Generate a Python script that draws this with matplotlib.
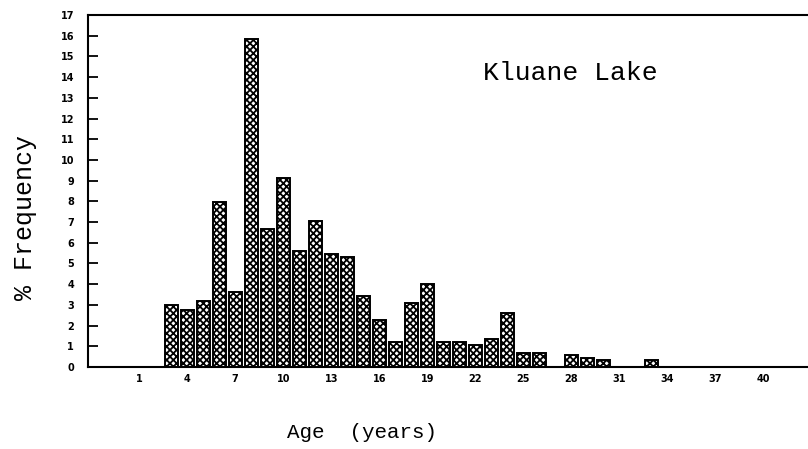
import matplotlib
matplotlib.use("Agg")
import matplotlib.pyplot as plt

ages = [3, 4, 5, 6, 7, 8, 9, 10, 11, 12, 13, 14, 15, 16, 17, 18, 19, 20, 21, 22,
        23, 24, 25, 26, 28, 29, 30, 33]
freq = [3.0, 2.75, 3.2, 7.95, 3.6, 15.85, 6.65, 9.15, 5.6, 7.05, 5.45, 5.3, 3.45,
        2.25, 1.2, 3.1, 4.0, 1.2, 1.2, 1.05, 1.35, 2.62, 0.66, 0.66, 0.58, 0.42,
        0.34, 0.34]
xticks = [1, 4, 7, 10, 13, 16, 19, 22, 25, 28, 31, 34, 37, 40]
yticks = list(range(0, 18))

plt.rcParams['hatch.linewidth'] = 1.3
fig = plt.figure(figsize=(8.08, 4.49), dpi=100)
ax = fig.add_axes([88/808, 1-367/449, 1-88/808, (367-15)/449])

ax.bar(ages, freq, width=0.8, color='white', edgecolor='black',
       hatch='xxxxx', linewidth=1.4)

ax.set_xlim(-2.2, 42.8)
ax.set_ylim(0, 17)
ax.set_xticks(xticks)
ax.set_yticks(yticks)
ax.set_xticklabels([str(t) for t in xticks], fontsize=7, fontweight='heavy')
ax.set_yticklabels([str(t) for t in yticks], fontsize=7, fontweight='heavy')
ax.tick_params(axis='x', length=0, pad=5)
ax.tick_params(axis='y', direction='in', length=7, width=1.3, pad=10)
ax.spines['right'].set_visible(False)
for s in ['left', 'bottom', 'top']:
    ax.spines[s].set_linewidth(1.5)

mono = 'Liberation Mono'
ax.text(0.67, 0.835, 'Kluane Lake', transform=ax.transAxes, ha='center', va='center',
        fontsize=19, family=mono)
fig.text(362/808, 1-433/449, 'Age  (years)', ha='center', va='center',
         fontsize=15, family=mono)
fig.text(25/808, 1-217/449, '% Frequency', ha='center', va='center',
         rotation=90, fontsize=18, family=mono)

fig.savefig('out.png', dpi=100)
